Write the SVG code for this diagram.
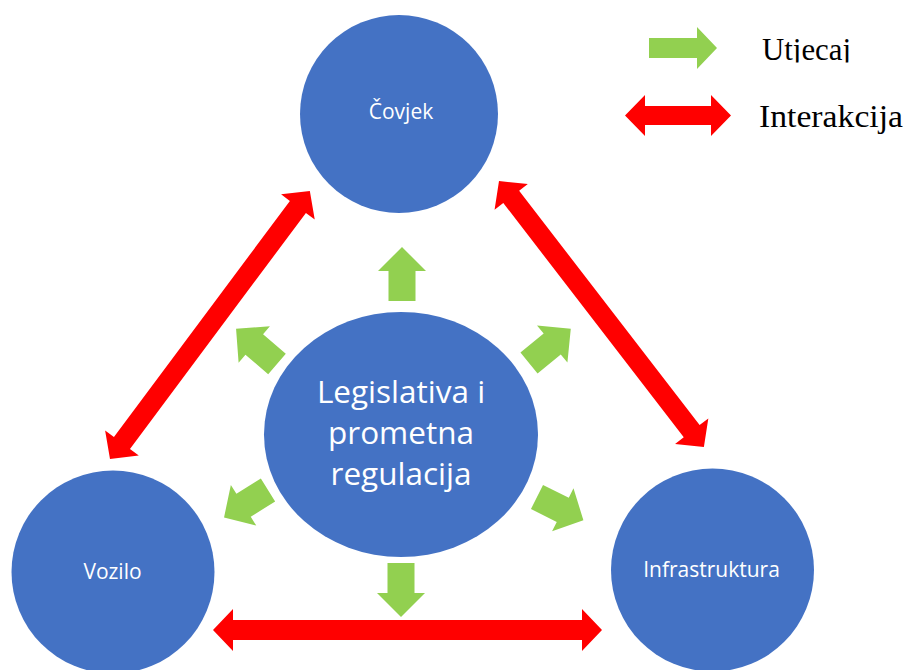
<svg xmlns="http://www.w3.org/2000/svg" width="910" height="670" viewBox="0 0 910 670">
  <style>
    .node { fill: #4472C4; }
    .lbl { font-family: "Open Sans", "Noto Sans", sans-serif; fill: #FFFFFF; text-anchor: middle; }
    .small { font-size: 21px; }
    .big { font-size: 31.5px; }
    .red { fill: #FF0000; }
    .green { fill: #92D050; }
    .leg { font-family: "Liberation Serif", serif; font-size: 32px; fill: #000000; }
  </style>
  <defs>
    <polygon id="ga" points="0,-13.5 30,-13.5 30,-24 54,0 30,24 30,13.5 0,13.5"/>
    <clipPath id="utclip"><rect x="740" y="0" width="170" height="62.5"/></clipPath>
  </defs>
  <rect x="0" y="0" width="910" height="670" fill="#FFFFFF"/>

  <g id="connectors">
    <g id="interactions" class="red">
      <polygon transform="translate(110,459) rotate(-53.3)" points="0,0 20,-21 20,-10 314.4,-10 314.4,-21 334.4,0 314.4,21 314.4,10 20,10 20,21"/>
      <polygon transform="translate(499,181) rotate(52.4)" points="0,0 20,-21 20,-10 315.8,-10 315.8,-21 335.8,0 315.8,21 315.8,10 20,10 20,21"/>
      <polygon transform="translate(213,630)" points="0,0 20,-21 20,-10 369,-10 369,-21 389,0 369,21 369,10 20,10 20,21"/>
    </g>
    <g id="influences" class="green">
      <use href="#ga" transform="translate(402,301) rotate(-90)"/>
      <use href="#ga" transform="translate(401,563) rotate(90)"/>
      <use href="#ga" transform="translate(277,364) rotate(-139.3)"/>
      <use href="#ga" transform="translate(529,363) rotate(-39.3)"/>
      <use href="#ga" transform="translate(268,490) rotate(148) scale(0.96,1)"/>
      <use href="#ga" transform="translate(537,497) rotate(26.5) scale(0.96,1)"/>
    </g>
  </g>

  <g id="node-covjek">
    <circle class="node" cx="399" cy="114" r="99"/>
    <text class="lbl small" x="401" y="119">Čovjek</text>
  </g>
  <g id="node-vozilo">
    <circle class="node" cx="113" cy="572" r="101.5"/>
    <text class="lbl small" x="112.5" y="579">Vozilo</text>
  </g>
  <g id="node-infrastruktura">
    <circle class="node" cx="712.5" cy="570" r="101.5"/>
    <text class="lbl small" x="711.5" y="577">Infrastruktura</text>
  </g>
  <g id="node-legislativa">
    <ellipse class="node" cx="401" cy="434.5" rx="137" ry="122.5"/>
    <text class="lbl big" x="401" y="403">Legislativa i</text>
    <text class="lbl big" x="401" y="444">prometna</text>
    <text class="lbl big" x="401" y="485">regulacija</text>
  </g>

  <g id="legend">
    <polygon class="green" points="649,38 697,38 697,27 717,48 697,69 697,58 649,58"/>
    <text class="leg" x="762" y="60" textLength="89" lengthAdjust="spacingAndGlyphs" clip-path="url(#utclip)">Utjecaj</text>
    <polygon class="red" transform="translate(625,115.5)" points="0,0 20,-20.5 20,-9.5 86,-9.5 86,-20.5 106,0 86,20.5 86,9.5 20,9.5 20,20.5"/>
    <text class="leg" x="759" y="127" textLength="144" lengthAdjust="spacingAndGlyphs">Interakcija</text>
  </g>
</svg>
